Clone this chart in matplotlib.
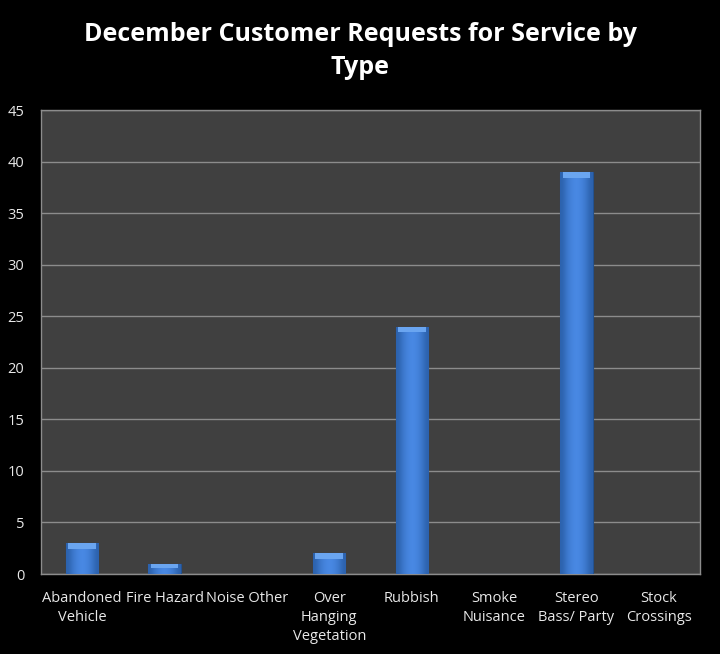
import matplotlib
matplotlib.use('Agg')
import matplotlib.pyplot as plt
import numpy as np

categories = ['Abandoned\nVehicle', 'Fire Hazard', 'Noise Other',
              'Over\nHanging\nVegetation', 'Rubbish', 'Smoke\nNuisance',
              'Stereo\nBass/ Party', 'Stock\nCrossings']
requests = [3, 1, 0, 2, 24, 0, 39, 0]
yticks = [0, 5, 10, 15, 20, 25, 30, 35, 40, 45]

plt.rcParams['font.family'] = ['Open Sans', 'DejaVu Sans']

fig = plt.figure(figsize=(7.2, 6.54), dpi=100, facecolor='black')
ax = fig.add_axes([41 / 720, 1 - 574 / 654, 659 / 720, 464 / 654])
ax.set_facecolor('#404040')

x = np.arange(len(categories))
bars = ax.bar(x, requests, width=0.39, color='#3b7bd6', edgecolor='#24528f',
              linewidth=0.8, zorder=3)

# horizontal shading on each bar
grad = np.array([[0.0, 0.55, 0.85, 1.0, 0.85, 0.55, 0.0]])
cmap = matplotlib.colors.LinearSegmentedColormap.from_list('b', ['#2c62ad', '#4a8ae6'])
for b in bars:
    if b.get_height() <= 0:
        continue
    im = ax.imshow(grad, extent=[b.get_x(), b.get_x() + b.get_width(), 0, b.get_height()],
                   aspect='auto', cmap=cmap, zorder=3.5, interpolation='bicubic')
    im.set_clip_path(b)
    # light top bevel
    cap = min(0.55, b.get_height() * 0.45)
    ax.bar(b.get_x() + b.get_width() / 2, cap, bottom=b.get_height() - cap,
           width=b.get_width() * 0.86, color='#6aa5f0', linewidth=0, zorder=4)

ax.set_xlim(-0.5, len(categories) - 0.5)
ax.set_ylim(0, 45)
ax.set_yticks(yticks)
ax.set_xticks(x)
ax.set_xticklabels(categories, linespacing=1.4)
ax.yaxis.grid(True, color='#8c8c8c', linewidth=1.0, zorder=1)
ax.tick_params(axis='both', length=0, colors='#e8e8e8', labelsize=10.5)
ax.tick_params(axis='x', pad=12)
ax.tick_params(axis='y', pad=12)
for s in ax.spines.values():
    s.set_color('#8c8c8c')
    s.set_linewidth(1.0)

fig.text(0.5, 1 - 51 / 654, 'December Customer Requests for Service by\nType',
         ha='center', va='center', color='white', fontsize=18, fontweight='bold',
         linespacing=1.45)

fig.savefig('out.png', dpi=100, facecolor='black')
